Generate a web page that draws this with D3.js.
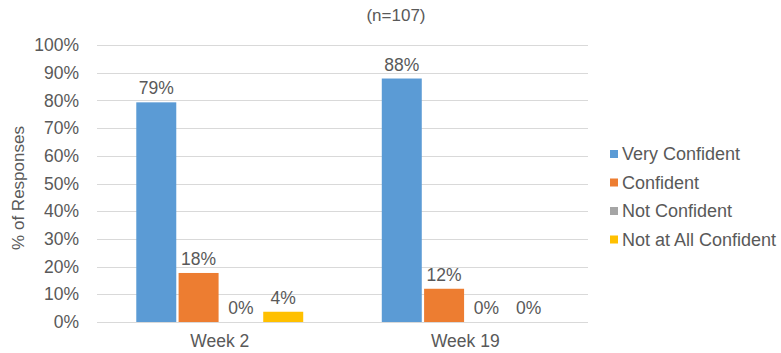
<!DOCTYPE html>
<html>
<head>
<meta charset="utf-8">
<script src="https://cdn.jsdelivr.net/npm/d3@7"></script>
<style>
  html, body { margin: 0; padding: 0; background: #fff; }
  svg { display: block; font-family: "Liberation Sans", Arial, sans-serif; }
</style>
</head>
<body>
<svg id="chart" width="781" height="353"></svg>
<script>
const categories = ["Week 2", "Week 19"];
const seriesNames = ["Very Confident", "Confident", "Not Confident", "Not at All Confident"];
const seriesColors = ["#5B9BD5", "#ED7D31", "#A5A5A5", "#FFC000"];
const veryConfident = [79.3, 87.9];
const confident = [17.7, 12.0];
const notConfident = [0, 0];
const notAtAllConfident = [3.7, 0];
const yTicks = [0, 10, 20, 30, 40, 50, 60, 70, 80, 90, 100];
const title = "(n=107)";
const yTitle = "% of Responses";

const series = [veryConfident, confident, notConfident, notAtAllConfident];

const svg = d3.select("#chart");
const textColor = "#595959";
const fs = 17.5;

const plot = { left: 97, right: 588, top: 45, bottom: 322 };

const y = d3.scaleLinear().domain([0, 100]).range([plot.bottom, plot.top]);
const x0 = d3.scaleBand().domain(categories).range([plot.left, plot.right])
  .paddingInner(0.32).paddingOuter(0.16);
const x1 = d3.scaleBand().domain(d3.range(seriesNames.length)).range([0, x0.bandwidth()])
  .paddingInner(0.055).paddingOuter(0);

// gridlines
svg.append("g").selectAll("line").data(yTicks).join("line")
  .attr("x1", plot.left).attr("x2", plot.right)
  .attr("y1", d => Math.round(y(d)) + 0.5).attr("y2", d => Math.round(y(d)) + 0.5)
  .attr("stroke", "#D9D9D9").attr("stroke-width", 1);

// y axis labels
const yAxis = d3.axisLeft(y).tickValues(yTicks).tickFormat(d => d + "%").tickSize(0).tickPadding(0);
const gy = svg.append("g").attr("transform", `translate(79,0)`).call(yAxis);
gy.select(".domain").remove();
gy.selectAll("text").attr("fill", textColor).attr("font-size", fs)
  .attr("font-family", "Liberation Sans, Arial, sans-serif");

// x axis labels
const xAxis = d3.axisBottom(x0).tickSize(0).tickPadding(0);
const gx = svg.append("g").attr("transform", `translate(0,335)`).call(xAxis);
gx.select(".domain").remove();
gx.selectAll("text").attr("fill", textColor).attr("font-size", fs)
  .attr("font-family", "Liberation Sans, Arial, sans-serif");

// bars
const groups = svg.append("g").selectAll("g").data(categories).join("g")
  .attr("transform", d => `translate(${x0(d)},0)`);

groups.each(function(cat, ci) {
  const g = d3.select(this);
  const vals = series.map((s, si) => ({ si, v: s[ci] }));
  g.selectAll("rect").data(vals).join("rect")
    .attr("x", d => x1(d.si))
    .attr("width", x1.bandwidth())
    .attr("y", d => y(d.v))
    .attr("height", d => y(0) - y(d.v))
    .attr("fill", d => seriesColors[d.si]);
  g.selectAll("text").data(vals).join("text")
    .attr("x", d => x1(d.si) + x1.bandwidth() / 2)
    .attr("y", d => y(d.v) - 8)
    .attr("text-anchor", "middle")
    .attr("fill", textColor)
    .attr("font-size", fs)
    .text(d => Math.round(d.v) + "%");
});

// title
svg.append("text").attr("x", 396).attr("y", 21).attr("text-anchor", "middle")
  .attr("fill", textColor).attr("font-size", 17).text(title);

// y title
svg.append("text").attr("transform", "translate(24,188) rotate(-90)")
  .attr("text-anchor", "middle").attr("fill", textColor).attr("font-size", 17).text(yTitle);

// legend
const legend = svg.append("g").selectAll("g").data(seriesNames).join("g")
  .attr("transform", (d, i) => `translate(610,${154 + i * 28.5})`);
legend.append("rect").attr("x", 0).attr("y", -4).attr("width", 8).attr("height", 8)
  .attr("fill", (d, i) => seriesColors[i]);
legend.append("text").attr("x", 12).attr("y", 6).attr("fill", textColor)
  .attr("font-size", 18).text(d => d);
</script>
</body>
</html>
